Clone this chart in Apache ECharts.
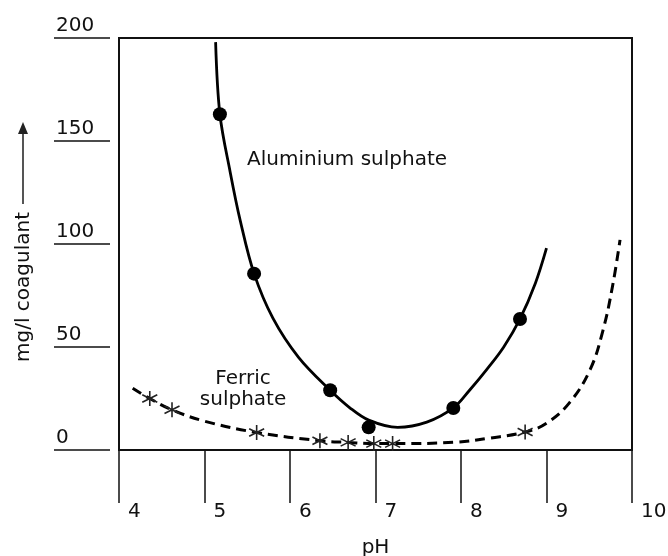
<!DOCTYPE html>
<html>
<head>
<meta charset="utf-8">
<script src="https://cdn.jsdelivr.net/npm/echarts@6/dist/echarts.min.js"></script>
<style>
  html, body { margin: 0; padding: 0; background: #fff; }
  #chart { width: 668px; height: 556px; }
</style>
</head>
<body>
<div id="chart"></div>
<script>
  // aluminium sulphate: fitted curve and measured points
  const alumCurvePH = [5.13, 5.18, 5.3, 5.42, 5.58, 5.8, 6.1, 6.47, 6.7, 6.92, 7.26, 7.6, 7.91, 8.1, 8.3, 8.5, 8.69, 8.87, 9.0]
  const alumCurveMg = [198, 163, 135, 111, 85.6, 64, 45, 29, 20.5, 14.5, 11, 13.5, 20.4, 29, 39, 50, 63.6, 81, 98]
  const alumPointPH = [5.18, 5.58, 6.47, 6.92, 7.91, 8.69]
  const alumPointMg = [163, 85.6, 29, 11, 20.4, 63.6]

  // ferric sulphate: fitted curve and measured points
  const ferricCurvePH = [4.16, 4.36, 4.62, 5.0, 5.61, 6.35, 6.68, 6.98, 7.2, 7.95, 8.34, 8.75, 9.0, 9.27, 9.51, 9.66, 9.77, 9.86]
  const ferricCurveMg = [30, 25, 19.5, 14, 8.5, 4.5, 3.7, 3.1, 3.1, 3.8, 5.8, 8.7, 13, 23, 39, 58, 79, 102]
  const ferricPointPH = [4.36, 4.62, 5.61, 6.35, 6.68, 6.98, 7.2, 8.75]
  const ferricPointMg = [25, 19.5, 8.5, 4.5, 3.7, 3.1, 3.1, 8.7]

  const pair = (xs, ys) => xs.map((x, i) => [x, ys[i]])

  const font = 'DejaVu Sans'
  const ink = '#111'
  const star = 'path://M10,0L10,20M1.34,5L18.66,15M18.66,5L1.34,15'

  const chart = echarts.init(document.getElementById('chart'))

  const option = {
    animation: false,
    grid: {
      left: 119,
      right: 36,
      top: 38,
      bottom: 106,
      containLabel: false,
      outerBoundsMode: 'none',
      show: true,
      borderColor: ink,
      borderWidth: 2
    },
    xAxis: {
      type: 'value',
      min: 4,
      max: 10,
      interval: 1,
      offset: 12,
      axisLine: { show: false },
      axisTick: { length: 53, lineStyle: { color: ink, width: 1.5 } },
      splitLine: { show: false },
      axisLabel: {
        align: 'left',
        verticalAlign: 'bottom',
        margin: 60,
        padding: [0, 0, 0, 9],
        fontSize: 20,
        fontFamily: font,
        color: ink
      },
      name: 'pH',
      nameLocation: 'middle',
      nameGap: 76,
      nameTextStyle: { fontSize: 20, fontFamily: font, color: ink }
    },
    yAxis: {
      type: 'value',
      min: 0,
      max: 200,
      interval: 50,
      offset: 9,
      axisLine: { show: false },
      axisTick: { length: 56, lineStyle: { color: ink, width: 1.5 } },
      splitLine: { show: false },
      axisLabel: {
        align: 'left',
        verticalAlign: 'bottom',
        margin: 54,
        padding: [0, 0, 2, 0],
        fontSize: 20,
        fontFamily: font,
        color: ink
      }
    },
    graphic: [
      {
        type: 'text',
        x: 24,
        y: 287,
        rotation: Math.PI / 2,
        style: {
          text: 'mg/l coagulant',
          fontSize: 20,
          fontFamily: font,
          fill: ink,
          align: 'center',
          verticalAlign: 'middle'
        }
      },
      {
        type: 'line',
        shape: { x1: 23, y1: 204, x2: 23, y2: 130 },
        style: { stroke: '#555', lineWidth: 2 }
      },
      {
        type: 'polygon',
        shape: { points: [[23, 122], [18, 134], [28, 134]] },
        style: { fill: '#222' }
      },
      {
        type: 'text',
        x: 247,
        y: 160,
        style: {
          text: 'Aluminium sulphate',
          fontSize: 20,
          fontFamily: font,
          fill: ink,
          align: 'left',
          verticalAlign: 'middle'
        }
      },
      {
        type: 'text',
        x: 243,
        y: 389,
        style: {
          text: 'Ferric\nsulphate',
          fontSize: 20,
          lineHeight: 21,
          fontFamily: font,
          fill: ink,
          align: 'center',
          verticalAlign: 'middle'
        }
      }
    ],
    series: [
      {
        name: 'Aluminium sulphate curve',
        type: 'line',
        smooth: 0.35,
        showSymbol: false,
        lineStyle: { color: '#000', width: 2.8 },
        data: pair(alumCurvePH, alumCurveMg)
      },
      {
        name: 'Aluminium sulphate',
        type: 'scatter',
        symbol: 'circle',
        symbolSize: 14,
        itemStyle: { color: '#000', opacity: 1 },
        data: pair(alumPointPH, alumPointMg),
        z: 3
      },
      {
        name: 'Ferric sulphate curve',
        type: 'line',
        smooth: 0.4,
        showSymbol: false,
        lineStyle: { color: '#000', width: 3, type: [10, 6] },
        data: pair(ferricCurvePH, ferricCurveMg)
      },
      {
        name: 'Ferric sulphate',
        type: 'scatter',
        symbol: star,
        symbolSize: 15,
        itemStyle: { color: '#222', borderColor: '#222', borderWidth: 1.6, opacity: 1 },
        data: pair(ferricPointPH, ferricPointMg),
        z: 3
      }
    ]
  }

  chart.setOption(option)
</script>
</body>
</html>
